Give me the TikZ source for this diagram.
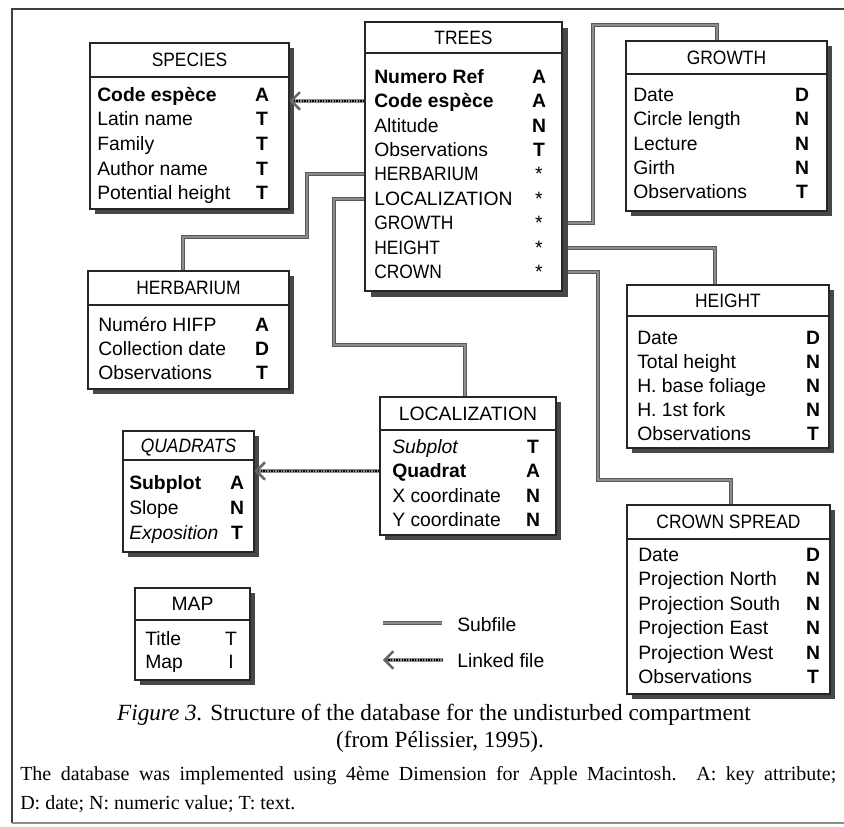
\documentclass[tikz,border=0pt]{standalone}
\usepackage{fontspec}
\usepackage{graphicx}
\setmainfont{Liberation Sans}
\newfontfamily\capserif{Liberation Serif}
\usetikzlibrary{fit,arrows.meta}
\pgfdeclarelayer{background}
\pgfsetlayers{background,main}

\tikzset{
  frameline/.style={draw=black!75, line width=1.1pt},
  frameline2/.style={draw=black!45, line width=0.8pt},
  dbbox/.style={draw=black!85, line width=1.1pt, fill=white, inner sep=0pt},
  boxshadow/.style={fill=black!72},
  headline/.style={draw=black!85, line width=0.9pt},
  headtxt/.style={font=\fontsize{14.5}{16}\selectfont, inner sep=0pt, text height=10pt, text depth=0pt},
  rowtxt/.style={font=\fontsize{14.5}{16}\selectfont, anchor=west, inner sep=0pt, text height=10pt, text depth=0pt},
  typetxt/.style={font=\fontsize{14.5}{16}\selectfont\bfseries, inner sep=0pt, text height=10pt, text depth=0pt},
  subfile/.style={draw=black!65, line width=0.7pt, double=black!45, double distance=1.6pt},
  linked/.style={draw=black, line width=0.9pt, dash pattern=on 1pt off 1pt,
    preaction={draw=black!45, line width=2.6pt, solid},
    -{Straight Barb[length=6.5pt,width=13pt,line width=1.6pt,color=black!60]}},
  legtxt/.style={font=\fontsize{14.5}{16}\selectfont, anchor=west, inner sep=0pt, text height=10pt, text depth=0pt},
  captxt/.style={font=\capserif\fontsize{17.4}{20}\selectfont, inner sep=0pt},
  foottxt/.style={font=\capserif\fontsize{15}{18}\selectfont, anchor=west, inner sep=0pt}
}

\newcommand\capsx[1]{\scalebox{0.9}[1]{#1}}
% [shadow offset] name x1 y1 x2 y2 yhead title
\newcommand\dbtable[8][5]{%
  \fill[boxshadow] (#3+#1,#4+#1) rectangle (#5+#1,#6+#1);
  \node[dbbox, fit={(#3,#4) (#5,#6)}] (#2) {};
  \draw[headline] (#3,#7) -- (#5,#7);
  \node[headtxt] (#2-title) at ({(#3+#5)/2},{(#4+#7)/2}) {#8};
}
% name xtext xtype y text type
\newcommand\dbrow[6]{%
  \node[rowtxt] (#1) at (#2,#4) {#5};
  \node[typetxt] (#1-t) at (#3,#4) {#6};
}

\begin{document}
\begin{tikzpicture}[x=0.75pt,y=-0.75pt]
\useasboundingbox (0,0) rectangle (844,827);
\draw[frameline] (844,9) -- (12,9) -- (12,823);
\draw[frameline2] (12,823) -- (844,823);

% SPECIES
\dbtable{species}{90}{43}{289}{209}{77}{\capsx{SPECIES}}
\dbrow{species-1}{97}{262}{95}{\bfseries Code espèce}{A}
\dbrow{species-2}{97}{262}{119}{Latin name}{T}
\dbrow{species-3}{97}{262}{144}{Family}{T}
\dbrow{species-4}{97}{262}{169}{Author name}{T}
\dbrow{species-5}{97}{262}{193}{Potential height}{T}

% TREES
\dbtable[6]{trees}{365}{22}{562}{291}{53}{\capsx{TREES}}
\dbrow{trees-1}{374}{539}{77}{\bfseries Numero Ref}{A}
\dbrow{trees-2}{374}{539}{101}{\bfseries Code espèce}{A}
\dbrow{trees-3}{374}{539}{126}{Altitude}{N}
\dbrow{trees-4}{374}{539}{150}{Observations}{T}
\dbrow{trees-5}{374}{539}{174}{\capsx{HERBARIUM}}{\mdseries *}
\dbrow{trees-6}{374}{539}{199}{LOCALIZATION}{\mdseries *}
\dbrow{trees-7}{374}{539}{223}{\capsx{GROWTH}}{\mdseries *}
\dbrow{trees-8}{374}{539}{248}{\capsx{HEIGHT}}{\mdseries *}
\dbrow{trees-9}{374}{539}{272}{\capsx{CROWN}}{\mdseries *}

% GROWTH
\dbtable{growth}{626}{41}{827}{211}{74}{\capsx{GROWTH}}
\dbrow{growth-1}{633}{802}{95}{Date}{D}
\dbrow{growth-2}{633}{802}{119}{Circle length}{N}
\dbrow{growth-3}{633}{802}{144}{Lecture}{N}
\dbrow{growth-4}{633}{802}{168}{Girth}{N}
\dbrow{growth-5}{633}{802}{192}{Observations}{T}

% HERBARIUM
\dbtable{herbarium}{88}{271}{289}{389}{305}{\capsx{HERBARIUM}}
\dbrow{herbarium-1}{98}{262}{325}{Numéro HIFP}{A}
\dbrow{herbarium-2}{98}{262}{349}{Collection date}{D}
\dbrow{herbarium-3}{98}{262}{373}{Observations}{T}

% HEIGHT
\dbtable{height}{627}{285}{829}{448}{316}{\capsx{HEIGHT}}
\dbrow{height-1}{637}{813}{338}{Date}{D}
\dbrow{height-2}{637}{813}{362}{Total height}{N}
\dbrow{height-3}{637}{813}{386}{H. base foliage}{N}
\dbrow{height-4}{637}{813}{410}{H. 1st fork}{N}
\dbrow{height-5}{637}{813}{434}{Observations}{T}

% LOCALIZATION
\dbtable{localization}{380}{397}{556}{535}{430}{LOCALIZATION}
\dbrow{localization-1}{392}{533}{447}{\itshape Subplot}{T}
\dbrow{localization-2}{392}{533}{471}{\bfseries Quadrat}{A}
\dbrow{localization-3}{392}{533}{496}{X coordinate}{N}
\dbrow{localization-4}{392}{533}{520}{Y coordinate}{N}

% QUADRATS
\dbtable{quadrats}{123}{431}{254}{552}{460}{\itshape\capsx{QUADRATS}}
\dbrow{quadrats-1}{129}{237}{483}{\bfseries Subplot}{A}
\dbrow{quadrats-2}{129}{237}{508}{Slope}{N}
\dbrow{quadrats-3}{129}{237}{533}{\itshape Exposition}{T}

% CROWN SPREAD
\dbtable{crownspread}{627}{505}{830}{694}{539}{\capsx{CROWN SPREAD}}
\dbrow{crownspread-1}{638}{813}{555}{Date}{D}
\dbrow{crownspread-2}{638}{813}{579}{Projection North}{N}
\dbrow{crownspread-3}{638}{813}{604}{Projection South}{N}
\dbrow{crownspread-4}{638}{813}{628}{Projection East}{N}
\dbrow{crownspread-5}{638}{813}{653}{Projection West}{N}
\dbrow{crownspread-6}{638}{813}{677}{Observations}{T}

% MAP
\dbtable{map}{135}{588}{250}{680}{620}{MAP}
\dbrow{map-1}{145}{231}{639}{Title}{\mdseries T}
\dbrow{map-2}{145}{231}{662}{Map}{\mdseries I}

% subfile connectors
\begin{pgfonlayer}{background}
  \coordinate (hb1) at (307,237);
  \coordinate (hb2) at (183,237);
  \draw[subfile] (trees.west |- trees-5) -| (hb1) -- (hb2) -- (hb2 |- herbarium.north);
  \coordinate (lc1) at (334,345);
  \coordinate (lc2) at (465,345);
  \draw[subfile] (trees.west |- trees-6) -| (lc1) -- (lc2) -- (lc2 |- localization.north);
  \coordinate (gr1) at (593,25);
  \coordinate (gr2) at (717,25);
  \draw[subfile] (trees.east |- trees-7) -| (gr1) -- (gr2) -- (gr2 |- growth.north);
  \coordinate (ht1) at (715,285);
  \draw[subfile] (trees.east |- trees-8) -| (ht1 |- height.north);
  \coordinate (cr1) at (598,480);
  \coordinate (cr2) at (731,480);
  \draw[subfile] (trees.east |- trees-9) -| (cr1) -- (cr2) -- (cr2 |- crownspread.north);
\end{pgfonlayer}

% linked files
\draw[linked] (trees.west |- trees-2) -- (species.east |- trees-2);
\draw[linked] (localization.west |- localization-2) -- (quadrats.east |- localization-2);

% legend
\coordinate (ls1) at (383,623);
\coordinate (ls2) at (442,623);
\draw[subfile] (ls1) -- (ls2);
\node[legtxt] (legsub) at (457,625) {Subfile};
\coordinate (lk1) at (383,660);
\coordinate (lk2) at (443,660);
\draw[linked] (lk2) -- (lk1);
\node[legtxt] (leglink) at (457,661) {Linked file};

% caption
\node[captxt] (cap1) at (434,715) {\itshape Figure 3.\upshape{} Structure of the database for the undisturbed compartment};
\node[captxt] (cap2) at (440,742) {(from Pélissier, 1995).};
\node[foottxt] (foot1) at (20,776) {\makebox[612pt][s]{The database was implemented using 4ème Dimension for Apple Macintosh. A: key attribute;}};
\node[foottxt] (foot2) at (20,804) {D: date; N: numeric value; T: text.};
\end{tikzpicture}
\end{document}
